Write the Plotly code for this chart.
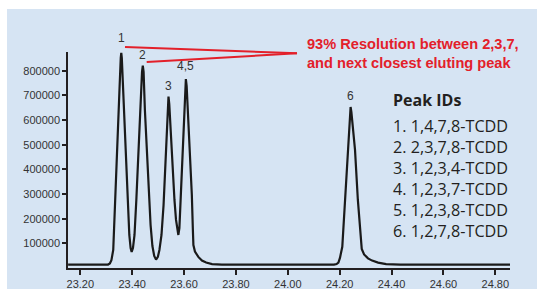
import plotly.graph_objects as go

# Chromatogram trace (retention time in min, abundance)
rt = [23.153, 23.307, 23.314, 23.320, 23.327, 23.332, 23.341, 23.351, 23.356, 23.358,
      23.360, 23.367, 23.373, 23.382, 23.389, 23.394, 23.398, 23.403, 23.409, 23.416,
      23.424, 23.432, 23.438, 23.441, 23.444, 23.449, 23.456, 23.463, 23.471, 23.478,
      23.485, 23.492, 23.499, 23.505, 23.513, 23.521, 23.530, 23.535, 23.540, 23.543,
      23.550, 23.557, 23.563, 23.569, 23.574, 23.578, 23.582, 23.586, 23.591, 23.595,
      23.601, 23.606, 23.607, 23.610, 23.617, 23.624, 23.630, 23.634, 23.636, 23.642,
      23.655, 23.669, 23.685, 23.708, 23.746, 24.178, 24.188, 24.195, 24.201, 24.210,
      24.220, 24.233, 24.240, 24.242, 24.245, 24.252, 24.259, 24.270, 24.280, 24.285,
      24.294, 24.309, 24.325, 24.348, 24.379, 24.433, 24.857]
abundance = [14000, 14000, 18000, 32000, 73000, 195000, 479000, 722000, 852000, 872000,
             852000, 681000, 479000, 276000, 134000, 81000, 65000, 81000, 134000, 276000,
             479000, 681000, 795000, 821000, 795000, 641000, 479000, 316000, 174000, 89000,
             49000, 34000, 45000, 73000, 134000, 255000, 458000, 600000, 695000, 665000,
             519000, 397000, 276000, 195000, 146000, 134000, 162000, 255000, 397000, 479000,
             641000, 738000, 766000, 738000, 600000, 458000, 296000, 154000, 93000, 67000,
             45000, 30000, 22000, 16000, 14000, 14000, 16000, 22000, 41000, 86000,
             276000, 479000, 620000, 653000, 633000, 560000, 479000, 276000, 122000, 77000,
             55000, 39000, 30000, 22000, 16000, 14000, 14000]

# Peak labels
peak_labels = ["1", "2", "3", "4,5", "6"]
peak_rt = [23.358, 23.441, 23.540, 23.607, 24.242]
peak_height = [872000, 821000, 695000, 766000, 653000]

peak_ids = ["1. 1,4,7,8-TCDD", "2. 2,3,7,8-TCDD", "3. 1,2,3,4-TCDD",
            "4. 1,2,3,7-TCDD", "5. 1,2,3,8-TCDD", "6. 1,2,7,8-TCDD"]

x_ticks = [23.20, 23.40, 23.60, 23.80, 24.00, 24.20, 24.40, 24.60, 24.80]
y_ticks = [100000, 200000, 300000, 400000, 500000, 600000, 700000, 800000]

note_lines = ["93% Resolution between 2,3,7,", "and next closest eluting peak"]

W, H = 537, 289
L, R, T, B = 68, 27, 52, 21
PW, PH = W - L - R, H - T - B
BG = "#d6e4f3"
RED = "#e3202a"
DARK = "#231f20"


def px(x):
    return (x - L) / PW


def py(y):
    return (H - B - y) / PH


fig = go.Figure()
fig.add_trace(go.Scatter(x=rt, y=abundance, mode="lines",
                         line=dict(color="#1a1a1a", width=2.2), hoverinfo="skip"))

shapes = [dict(type="rect", xref="paper", yref="paper", x0=px(7), x1=px(W + 5),
               y0=py(H + 5), y1=py(9), fillcolor=BG, line=dict(width=0), layer="below")]
# red leader lines
shapes.append(dict(type="line", xref="paper", yref="paper", x0=px(125), y0=py(47), x1=px(297), y1=py(53.3),
                   line=dict(color=RED, width=2)))
shapes.append(dict(type="line", xref="paper", yref="paper", x0=px(146.7), y0=py(62), x1=px(297), y1=py(53.3),
                   line=dict(color=RED, width=2)))

annotations = []
shifts = [6, 2, 2, 4, 2]
for lab, xr, yh, s in zip(peak_labels, peak_rt, peak_height, shifts):
    annotations.append(dict(x=xr, y=yh, xref="x", yref="y", text=lab, showarrow=False,
                            yanchor="bottom", yshift=s,
                            font=dict(family="Liberation Sans, Arial", size=12, color="#333333")))

for txt, yc in zip(note_lines, [44, 63.3]):
    annotations.append(dict(x=px(305), y=py(yc), xref="paper", yref="paper", text="<b>%s</b>" % txt,
                            showarrow=False, xanchor="left", yanchor="middle",
                            font=dict(family="Liberation Sans, Arial", size=14.6, color=RED)))

annotations.append(dict(x=px(390.5), y=py(100), xref="paper", yref="paper", text="<b>Peak IDs</b>",
                        showarrow=False, xanchor="left", yanchor="middle",
                        font=dict(family="Open Sans", size=16, color="#231f20")))
annotations.append(dict(x=px(390.5), y=py(123.5 - 10.5), xref="paper", yref="paper",
                        text="<br>".join(peak_ids), align="left",
                        showarrow=False, xanchor="left", yanchor="top",
                        font=dict(family="Open Sans", size=16.2, color="#231f20")))

fig.update_layout(
    width=W, height=H,
    margin=dict(l=L, r=R, t=T, b=B, autoexpand=False),
    paper_bgcolor="white", plot_bgcolor=BG,
    showlegend=False,
    shapes=shapes, annotations=annotations,
    xaxis=dict(range=[23.1526, 24.8565], showgrid=False, zeroline=False, showline=True,
               automargin=False,
               linecolor=DARK, linewidth=1.5, ticks="outside", ticklen=5, tickwidth=1.5,
               tickcolor=DARK, tickvals=x_ticks, ticktext=["%.2f" % v for v in x_ticks],
               tickfont=dict(family="Liberation Sans, Arial", size=11, color="#333333")),
    yaxis=dict(range=[0, 875900], showgrid=False, zeroline=False, showline=True,
               automargin=False,
               linecolor=DARK, linewidth=1.5, ticks="outside", ticklen=4, tickwidth=1.5,
               tickcolor=DARK, tickvals=y_ticks, ticktext=[str(v) for v in y_ticks],
               tickfont=dict(family="Liberation Sans, Arial", size=11, color="#333333")),
)

fig.write_html("out.html", config={"displayModeBar": False},
               post_script="document.body.style.margin='0';")
